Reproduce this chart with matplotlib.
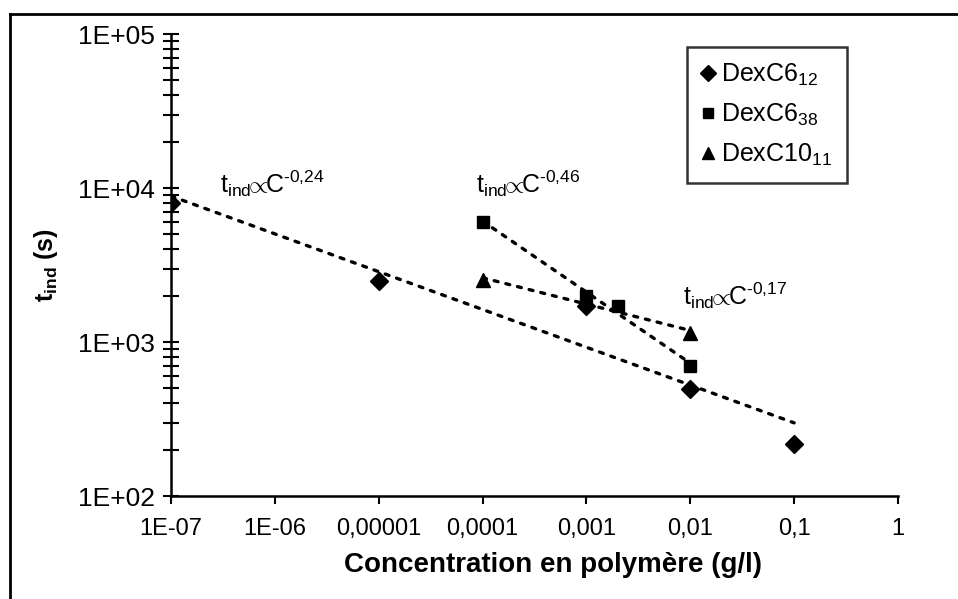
import numpy as np
import matplotlib
matplotlib.use("Agg")
import matplotlib.pyplot as plt
from matplotlib.lines import Line2D
from matplotlib.ticker import FixedLocator, LogLocator, NullFormatter, FixedFormatter

plt.rcParams["font.family"] = ["Liberation Sans", "DejaVu Sans"]
plt.rcParams["mathtext.fontset"] = "custom"
plt.rcParams["mathtext.rm"] = "Liberation Sans"
plt.rcParams["mathtext.it"] = "Liberation Sans:italic"
plt.rcParams["mathtext.bf"] = "Liberation Sans:bold"

# data
c6_12_conc = [1e-7, 1e-5, 1e-3, 1e-2, 1e-1]
c6_12_tind = [8000, 2490, 1710, 495, 218]

c6_38_conc = [1e-4, 1e-3, 2e-3, 1e-2]
c6_38_tind = [6040, 1990, 1710, 698]

c10_11_conc = [1e-4, 1e-3, 1e-2]
c10_11_tind = [2530, 1880, 1150]

series_names = [r"DexC6$_{12}$", r"DexC6$_{38}$", r"DexC10$_{11}$"]
fit_labels = [r"t$_{\mathrm{ind}}\!\!\propto\!\!$C$^{\text{-0,24}}$",
              r"t$_{\mathrm{ind}}\!\!\propto\!\!$C$^{\text{-0,46}}$",
              r"t$_{\mathrm{ind}}\!\!\propto\!\!$C$^{\text{-0,17}}$"]

xticks = [1e-7, 1e-6, 1e-5, 1e-4, 1e-3, 1e-2, 1e-1, 1]
xtick_labels = ["1E-07", "1E-06", "0,00001", "0,0001", "0,001", "0,01", "0,1", "1"]
yticks = [1e2, 1e3, 1e4, 1e5]
ytick_labels = ["1E+02", "1E+03", "1E+04", "1E+05"]

fig = plt.figure(figsize=(9.58, 5.99), dpi=100)
ax = fig.add_axes([171 / 958, 103 / 599, 727 / 958, 462 / 599])

dots = (0, (1.2, 2.4))
series = [(c6_12_conc, c6_12_tind, "D", 9), (c6_38_conc, c6_38_tind, "s", 8),
          (c10_11_conc, c10_11_tind, "^", 10)]
for (xs, ys, mk, ms), name in zip(series, series_names):
    lx, ly = np.log10(xs), np.log10(ys)
    slope, icpt = np.polyfit(lx, ly, 1)
    fx = np.array([lx.min(), lx.max()])
    ax.plot(10 ** fx, 10 ** (icpt + slope * fx), color="black", lw=2.4, ls=dots,
            dash_capstyle="round", zorder=2)
    ax.plot(xs, ys, ls="none", marker=mk, ms=ms, color="black", label=name, zorder=3)

ax.set_xscale("log")
ax.set_yscale("log")
ax.set_xlim(1e-7, 1)
ax.set_ylim(1e2, 1e5)

ax.xaxis.set_major_locator(FixedLocator(xticks))
ax.xaxis.set_major_formatter(FixedFormatter(xtick_labels))
ax.xaxis.set_minor_locator(FixedLocator([]))
ax.yaxis.set_major_locator(FixedLocator(yticks))
ax.yaxis.set_major_formatter(FixedFormatter(ytick_labels))
ax.yaxis.set_minor_locator(LogLocator(base=10, subs=np.arange(2, 10)))
ax.yaxis.set_minor_formatter(NullFormatter())

ax.tick_params(axis="x", which="major", direction="out", length=6, width=1.5,
               labelsize=17, pad=10)
ax.tick_params(axis="y", which="both", direction="inout", length=11, width=1.5,
               labelsize=19, pad=6)

for s in ["top", "right"]:
    ax.spines[s].set_visible(False)
for s in ["left", "bottom"]:
    ax.spines[s].set_linewidth(1.8)

ax.set_xlabel("Concentration en polymère (g/l)", fontsize=20, fontweight="bold")
ax.xaxis.set_label_coords(0.525, -0.122)
ax.set_ylabel(r"t$_{\mathbf{ind}}$ (s)", fontsize=18, fontweight="bold")
ax.yaxis.set_label_coords(-0.152, 0.5)

ax.text(0.067, 0.656, fit_labels[0], transform=ax.transAxes, fontsize=18)
ax.text(0.42, 0.656, fit_labels[1], transform=ax.transAxes, fontsize=18)
ax.text(0.704, 0.413, fit_labels[2], transform=ax.transAxes, fontsize=18)

leg = ax.legend(loc="upper right", bbox_to_anchor=(0.93, 0.972), fontsize=18,
                frameon=True, fancybox=False, edgecolor="black", handlelength=0.5,
                handletextpad=0.25, borderpad=0.6, labelspacing=0.55,
                borderaxespad=0, markerscale=0.85)
leg.get_frame().set_linewidth(1.8)

# scan frame (left and top edges)
fig.add_artist(Line2D([10 / 958, 10 / 958], [0, 1 - 14 / 599], color="black", lw=2,
                      transform=fig.transFigure))
fig.add_artist(Line2D([10 / 958, 1], [1 - 14 / 599, 1 - 14 / 599], color="black", lw=2,
                      transform=fig.transFigure))

fig.savefig("out.png", dpi=100)
